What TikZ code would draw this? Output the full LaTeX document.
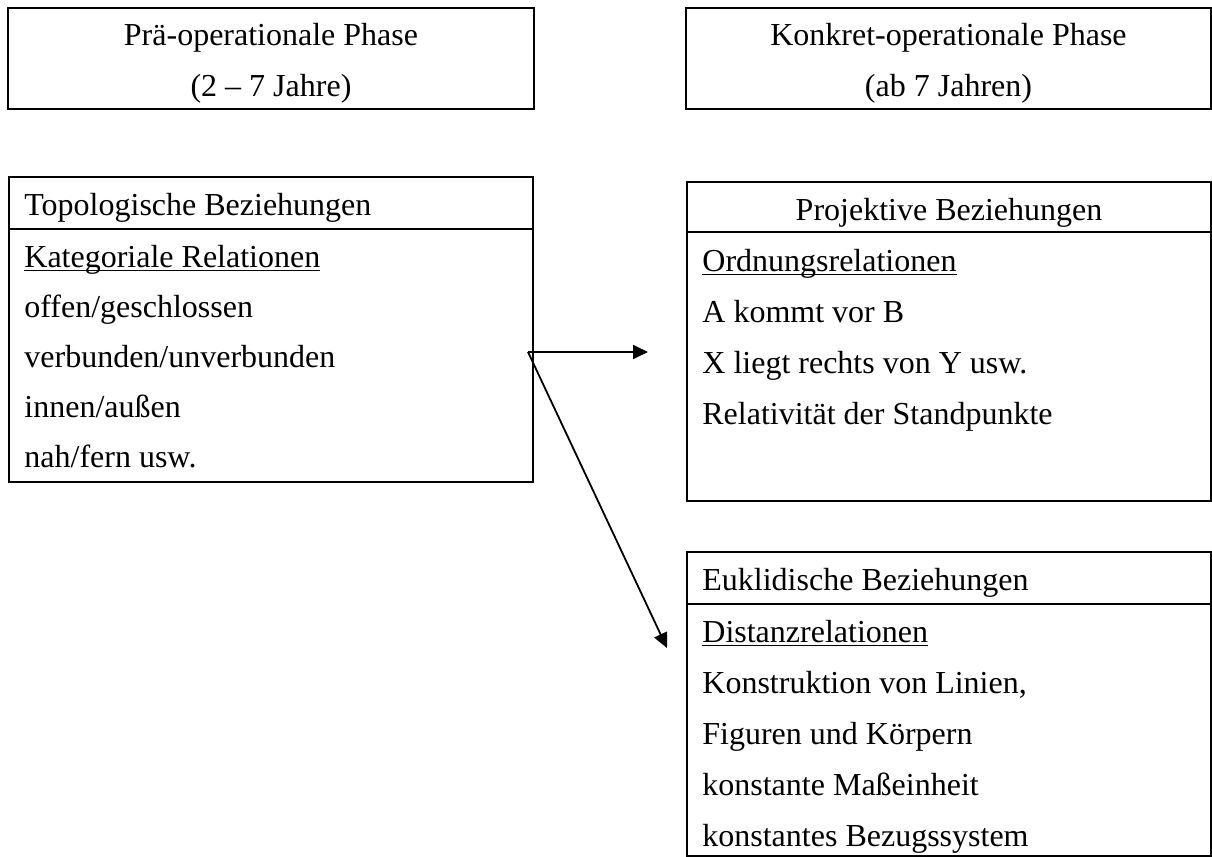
\documentclass[tikz,border=0pt]{standalone}
\usepackage{fontspec}
\setmainfont{Liberation Serif}
\usetikzlibrary{arrows.meta}
\newcommand\myul[1]{\setbox0\hbox{#1}\rlap{\rule[-2.2pt]{\wd0}{0.75pt}}#1}
\tikzset{
  boxshape/.style={draw, line width=1pt, rectangle, inner sep=0pt},
  txt/.style={anchor=base west, inner sep=0pt, font=\fontsize{16}{20}\selectfont},
  ctxt/.style={anchor=base, inner sep=0pt, font=\fontsize{16}{20}\selectfont},
  conn/.style={line width=0.9pt, -{Triangle[length=7.5pt,width=7pt]}}
}
\begin{document}
\begin{tikzpicture}[x=0.5pt,y=-0.5pt]
\useasboundingbox (0,0) rectangle (1212,857);
% top phase boxes
\node[boxshape, minimum width=263pt, minimum height=50.5pt] (pre) at (271,58.5) {};
\node[boxshape, minimum width=262.5pt, minimum height=50.5pt] (konk) at (948.5,58.5) {};
\node[ctxt] (pre1) at (271,45) {Prä-operationale Phase};
\node[ctxt] (pre2) at (271,96) {(2 – 7 Jahre)};
\node[ctxt] (konk1) at (948.5,45) {Konkret-operationale Phase};
\node[ctxt] (konk2) at (948.5,96) {(ab 7 Jahren)};
% topological
\node[boxshape, minimum width=262pt, minimum height=26pt] (topohead) at (271,203) {};
\node[boxshape, minimum width=262pt, minimum height=126.5pt] (topobody) at (271,355.5) {};
\node[txt] (topo0) at (24,215) {Topologische Beziehungen};
\node[txt] (topo1) at (24,267) {\myul{Kategoriale Relationen}};
\node[txt] (topo2) at (24,317) {offen/geschlossen};
\node[txt] (topo3) at (24,367) {verbunden/unverbunden};
\node[txt] (topo4) at (24,417) {innen/außen};
\node[txt] (topo5) at (24,467) {nah/fern usw.};
% projective
\node[boxshape, minimum width=262pt, minimum height=25pt] (projhead) at (949,207) {};
\node[boxshape, minimum width=262pt, minimum height=134.5pt] (projbody) at (949,366.5) {};
\node[ctxt] (proj0) at (949,220) {Projektive Beziehungen};
\node[txt] (proj1) at (702,271) {\myul{Ordnungsrelationen}};
\node[txt] (proj2) at (702,322) {A kommt vor B};
\node[txt] (proj3) at (702,373) {X liegt rechts von Y usw.};
\node[txt] (proj4) at (702,424) {Relativität der Standpunkte};
% euclidean
\node[boxshape, minimum width=262pt, minimum height=26pt] (eukhead) at (949,578) {};
\node[boxshape, minimum width=262pt, minimum height=126pt] (eukbody) at (949,730) {};
\node[txt] (euk0) at (702,590) {Euklidische Beziehungen};
\node[txt] (euk1) at (702,642) {\myul{Distanzrelationen}};
\node[txt] (euk2) at (702,693) {Konstruktion von Linien,};
\node[txt] (euk3) at (702,744) {Figuren und Körpern};
\node[txt] (euk4) at (702,795) {konstante Maßeinheit};
\node[txt] (euk5) at (702,846) {konstantes Bezugssystem};
% connectors
\coordinate (src) at (528,352);
\coordinate (tproj) at (648,352);
\coordinate (teuk) at (667,648);
\draw[conn] (src) -- (tproj);
\draw[conn] (src) -- (teuk);
\end{tikzpicture}
\end{document}
